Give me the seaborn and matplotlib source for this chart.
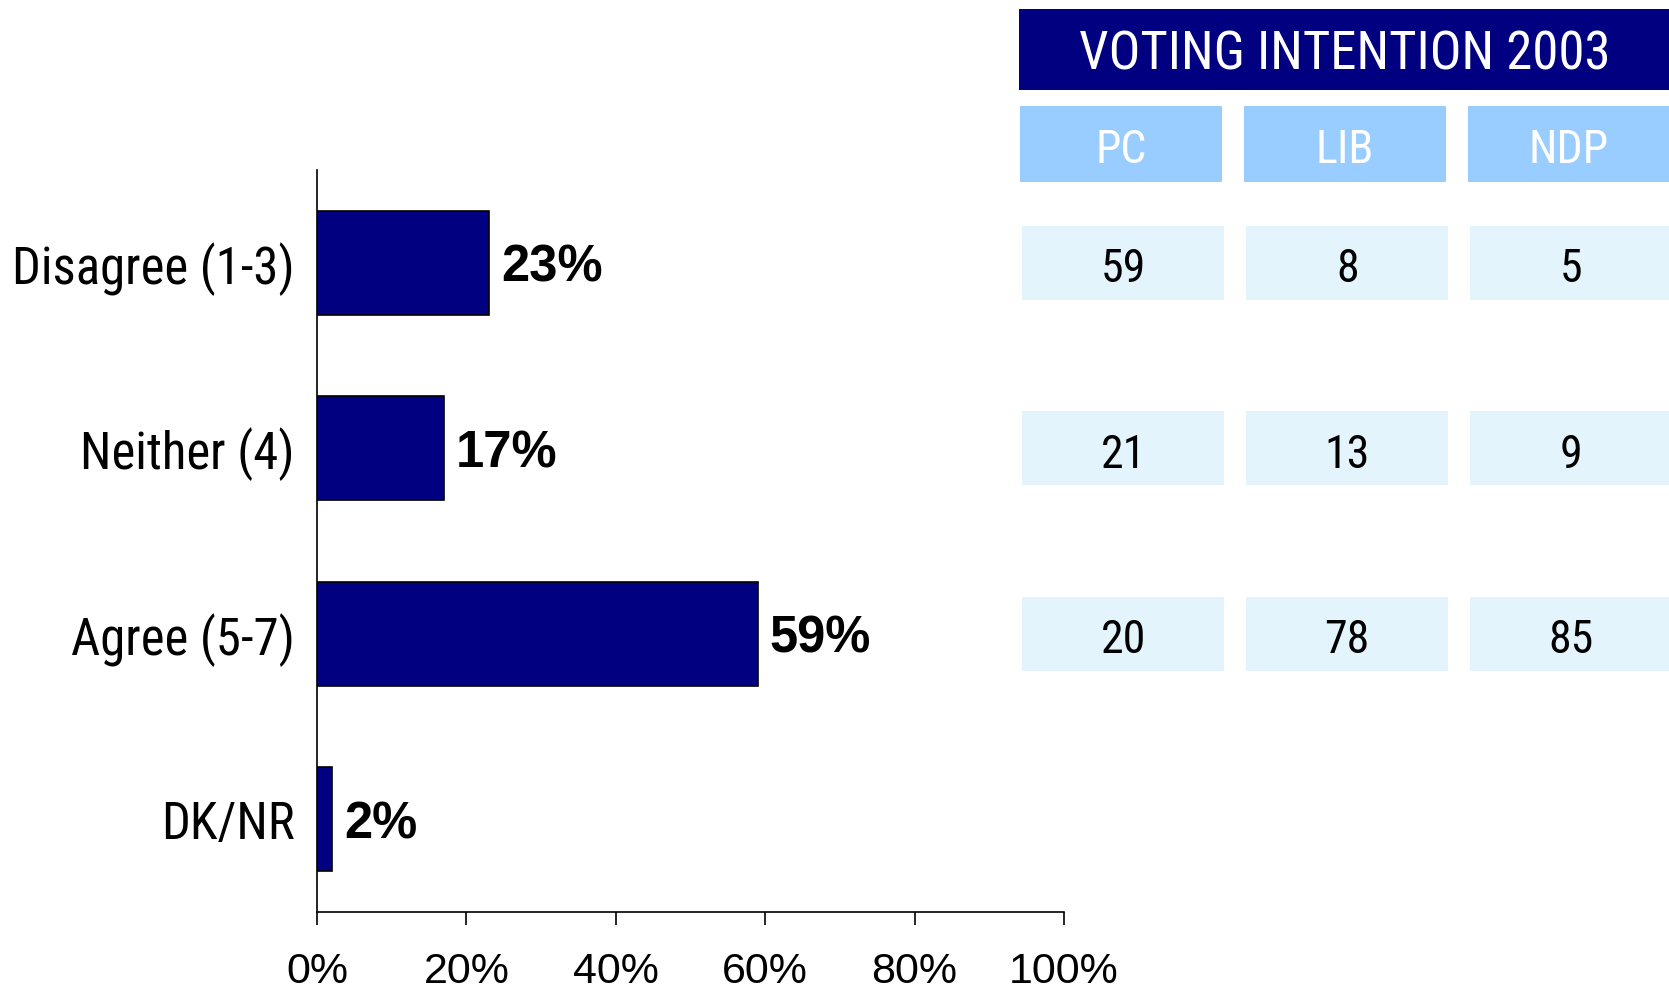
import matplotlib
matplotlib.use("Agg")
import matplotlib.pyplot as plt
import seaborn as sns
import pandas as pd
from matplotlib.patches import Rectangle

# data
categories = ["Disagree (1-3)", "Neither (4)", "Agree (5-7)", "DK/NR"]
values = [23, 17, 59, 2]
parties = ["PC", "LIB", "NDP"]
pc_vals = [59, 21, 20]
lib_vals = [8, 13, 78]
ndp_vals = [5, 9, 85]
table_title = "VOTING INTENTION 2003"
xticks = [0, 20, 40, 60, 80, 100]

sns.set_style("white")
plt.rcParams["font.family"] = ["Roboto Condensed", "DejaVu Sans"]
plt.rcParams["text.color"] = "black"
plt.rcParams["xtick.color"] = "black"
plt.rcParams["ytick.color"] = "black"

navy = "#000080"
head_blue = "#99CCFF"
cell_blue = "#E3F4FD"
arial = ["Liberation Sans", "DejaVu Sans"]

df = pd.DataFrame({"cat": categories, "val": values})

fig = plt.figure(figsize=(16.69, 9.94), dpi=100)
ax = fig.add_axes([0.190, 0.0825, 0.4475, 0.7465])

sns.barplot(data=df, x="val", y="cat", color=navy, edgecolor="black",
            linewidth=1.2, width=0.56, saturation=1, ax=ax)

ax.set_xlim(0, 100)
ax.set_ylim(3.5, -0.5)
ax.set_xticks(xticks)
ax.set_xticklabels([f"{t}%" for t in xticks], fontsize=31, family=arial)
ax.tick_params(axis="x", bottom=True, direction="out", length=9.5, width=1.2, pad=19)
ax.tick_params(axis="y", left=False, length=0, pad=16, labelsize=36.5)
ax.set_xlabel("")
ax.set_ylabel("")
for s in ["top", "right"]:
    ax.spines[s].set_visible(False)
for s in ["left", "bottom"]:
    ax.spines[s].set_linewidth(1.2)
    ax.spines[s].set_color("black")

for i, v in enumerate(values):
    ax.text(v + 1.6, i, f"{v}%", va="center_baseline", ha="left",
            fontsize=36.5, fontweight="bold", color="black", family=arial)

# table on the right
tax = fig.add_axes([0.6105, 0.0825, 0.3895, 0.9175])
tax.set_xlim(-0.455, 2.446)
tax.set_ylim(3.5, -1.416)
tax.axis("off")

cw = 0.90
ch = 0.40
tax.add_patch(Rectangle((-0.455, -1.15 - 0.22), 3.0, 0.44,
                        facecolor=navy, edgecolor="none"))
tax.text(1.0, -1.15, table_title, ha="center", va="center_baseline",
         color="white", fontsize=38)

for j, p in enumerate(parties):
    tax.add_patch(Rectangle((j - cw / 2, -0.64 - 0.205), cw, 0.41,
                            facecolor=head_blue, edgecolor="none"))
    tax.text(j, -0.63, p, ha="center", va="center_baseline", color="white", fontsize=33)

for j, col in enumerate([pc_vals, lib_vals, ndp_vals]):
    for i, v in enumerate(col):
        tax.add_patch(Rectangle((j - cw / 2 + 0.01, i - ch / 2), cw, ch,
                                facecolor=cell_blue, edgecolor="none"))
        tax.text(j + 0.01, i + 0.01, str(v), ha="center", va="center_baseline",
                 color="black", fontsize=33)

fig.savefig("out.png", dpi=100)
